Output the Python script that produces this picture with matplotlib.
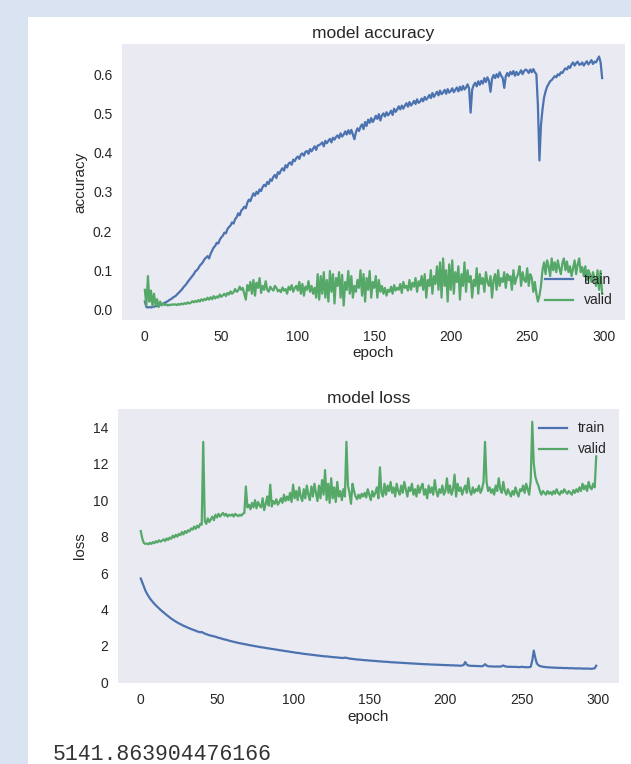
import numpy as np
import matplotlib
matplotlib.use("Agg")
import matplotlib.pyplot as plt
from matplotlib.patches import Rectangle

# values, one per epoch (0..299)
acc_train = [
    0.020, 0.006, 0.005, 0.006, 0.005, 0.006, 0.007, 0.008, 0.009, 0.010, 0.012, 0.013, 0.015, 0.017, 0.019, 0.021, 0.024, 0.026, 0.029, 0.032,
    0.034, 0.038, 0.042, 0.046, 0.050, 0.055, 0.060, 0.064, 0.070, 0.075, 0.080, 0.085, 0.090, 0.097, 0.100, 0.105, 0.112, 0.116, 0.121, 0.128,
    0.132, 0.136, 0.130, 0.142, 0.150, 0.158, 0.162, 0.170, 0.168, 0.178, 0.184, 0.188, 0.196, 0.194, 0.205, 0.210, 0.214, 0.222, 0.219, 0.230,
    0.235, 0.245, 0.240, 0.252, 0.256, 0.262, 0.258, 0.272, 0.280, 0.276, 0.287, 0.296, 0.290, 0.300, 0.295, 0.306, 0.302, 0.312, 0.318, 0.314,
    0.325, 0.320, 0.332, 0.328, 0.338, 0.343, 0.335, 0.350, 0.346, 0.355, 0.360, 0.354, 0.368, 0.362, 0.372, 0.375, 0.369, 0.382, 0.378, 0.386,
    0.390, 0.384, 0.395, 0.398, 0.392, 0.402, 0.404, 0.397, 0.409, 0.403, 0.410, 0.416, 0.407, 0.418, 0.419, 0.422, 0.426, 0.416, 0.430, 0.424,
    0.430, 0.435, 0.426, 0.438, 0.433, 0.440, 0.444, 0.437, 0.449, 0.441, 0.446, 0.454, 0.446, 0.457, 0.448, 0.458, 0.446, 0.434, 0.452, 0.462,
    0.455, 0.466, 0.472, 0.460, 0.478, 0.468, 0.484, 0.476, 0.488, 0.478, 0.485, 0.494, 0.486, 0.498, 0.482, 0.495, 0.500, 0.492, 0.503, 0.495,
    0.500, 0.507, 0.496, 0.512, 0.504, 0.510, 0.518, 0.510, 0.520, 0.512, 0.520, 0.526, 0.517, 0.529, 0.520, 0.525, 0.532, 0.524, 0.536, 0.527,
    0.530, 0.538, 0.531, 0.542, 0.535, 0.540, 0.547, 0.539, 0.552, 0.542, 0.549, 0.555, 0.546, 0.558, 0.549, 0.553, 0.560, 0.550, 0.562, 0.553,
    0.557, 0.564, 0.554, 0.560, 0.566, 0.556, 0.568, 0.559, 0.570, 0.561, 0.566, 0.574, 0.564, 0.502, 0.560, 0.572, 0.578, 0.569, 0.582, 0.573,
    0.583, 0.576, 0.590, 0.580, 0.592, 0.583, 0.555, 0.588, 0.598, 0.590, 0.600, 0.592, 0.605, 0.596, 0.590, 0.565, 0.595, 0.603, 0.595, 0.606,
    0.600, 0.608, 0.596, 0.606, 0.598, 0.603, 0.610, 0.600, 0.608, 0.612, 0.609, 0.603, 0.612, 0.605, 0.613, 0.605, 0.600, 0.520, 0.380, 0.470,
    0.510, 0.540, 0.556, 0.568, 0.575, 0.582, 0.585, 0.590, 0.595, 0.592, 0.600, 0.597, 0.605, 0.603, 0.610, 0.615, 0.612, 0.620, 0.616, 0.625,
    0.630, 0.622, 0.628, 0.632, 0.624, 0.625, 0.630, 0.622, 0.628, 0.633, 0.625, 0.630, 0.636, 0.626, 0.632, 0.630, 0.638, 0.645, 0.630, 0.590,
]

acc_valid = [
    0.050, 0.010, 0.085, 0.020, 0.048, 0.008, 0.040, 0.012, 0.026, 0.006, 0.020, 0.010, 0.015, 0.011, 0.013, 0.010, 0.012, 0.011, 0.013, 0.012,
    0.013, 0.011, 0.014, 0.012, 0.015, 0.013, 0.016, 0.014, 0.018, 0.015, 0.017, 0.021, 0.018, 0.022, 0.019, 0.024, 0.020, 0.026, 0.022, 0.027,
    0.024, 0.030, 0.025, 0.031, 0.026, 0.034, 0.028, 0.033, 0.030, 0.038, 0.032, 0.036, 0.040, 0.034, 0.042, 0.038, 0.046, 0.040, 0.044, 0.052,
    0.045, 0.048, 0.058, 0.050, 0.055, 0.040, 0.025, 0.062, 0.048, 0.070, 0.040, 0.075, 0.035, 0.068, 0.055, 0.080, 0.042, 0.060, 0.050, 0.072,
    0.050, 0.045, 0.058, 0.052, 0.048, 0.060, 0.055, 0.046, 0.050, 0.044, 0.056, 0.048, 0.052, 0.040, 0.058, 0.050, 0.062, 0.045, 0.055, 0.060,
    0.048, 0.070, 0.040, 0.065, 0.035, 0.058, 0.050, 0.072, 0.045, 0.060, 0.040, 0.055, 0.030, 0.090, 0.025, 0.085, 0.040, 0.095, 0.030, 0.075,
    0.020, 0.098, 0.045, 0.090, 0.015, 0.080, 0.060, 0.095, 0.030, 0.088, 0.010, 0.070, 0.050, 0.098, 0.040, 0.085, 0.030, 0.060, 0.045, 0.075,
    0.055, 0.100, 0.035, 0.090, 0.020, 0.080, 0.050, 0.098, 0.030, 0.070, 0.055, 0.085, 0.030, 0.075, 0.045, 0.060, 0.040, 0.055, 0.035, 0.050,
    0.045, 0.058, 0.040, 0.062, 0.048, 0.055, 0.050, 0.065, 0.042, 0.070, 0.055, 0.060, 0.048, 0.075, 0.050, 0.068, 0.058, 0.080, 0.045, 0.072,
    0.060, 0.085, 0.050, 0.090, 0.030, 0.075, 0.060, 0.100, 0.040, 0.085, 0.065, 0.110, 0.050, 0.120, 0.030, 0.130, 0.060, 0.100, 0.020, 0.115,
    0.050, 0.125, 0.040, 0.095, 0.070, 0.110, 0.025, 0.090, 0.060, 0.120, 0.045, 0.100, 0.070, 0.085, 0.030, 0.075, 0.060, 0.105, 0.040, 0.090,
    0.065, 0.080, 0.045, 0.095, 0.070, 0.060, 0.085, 0.030, 0.075, 0.090, 0.050, 0.100, 0.060, 0.080, 0.070, 0.095, 0.055, 0.090, 0.075, 0.085,
    0.050, 0.100, 0.065, 0.080, 0.090, 0.110, 0.060, 0.095, 0.075, 0.070, 0.105, 0.060, 0.090, 0.080, 0.045, 0.070, 0.040, 0.020, 0.035, 0.060,
    0.100, 0.120, 0.090, 0.125, 0.110, 0.085, 0.130, 0.100, 0.120, 0.095, 0.125, 0.105, 0.090, 0.118, 0.130, 0.100, 0.122, 0.095, 0.110, 0.085,
    0.105, 0.125, 0.090, 0.115, 0.130, 0.095, 0.108, 0.085, 0.110, 0.075, 0.100, 0.090, 0.070, 0.095, 0.080, 0.060, 0.100, 0.050, 0.098, 0.040,
]

loss_train = [
    5.70, 5.48, 5.25, 5.05, 4.88, 4.74, 4.61, 4.50, 4.40, 4.31, 4.22, 4.14, 4.06, 3.98, 3.91, 3.84, 3.77, 3.70, 3.63, 3.57,
    3.50, 3.45, 3.39, 3.34, 3.29, 3.24, 3.20, 3.16, 3.11, 3.08, 3.04, 3.00, 2.97, 2.93, 2.90, 2.87, 2.84, 2.80, 2.78, 2.75,
    2.77, 2.72, 2.68, 2.65, 2.62, 2.59, 2.57, 2.55, 2.53, 2.51, 2.48, 2.45, 2.43, 2.41, 2.38, 2.36, 2.34, 2.32, 2.29, 2.27,
    2.25, 2.23, 2.21, 2.19, 2.17, 2.15, 2.14, 2.12, 2.10, 2.09, 2.07, 2.05, 2.04, 2.02, 2.01, 1.99, 1.98, 1.96, 1.95, 1.93,
    1.92, 1.91, 1.89, 1.88, 1.87, 1.85, 1.84, 1.83, 1.81, 1.80, 1.79, 1.77, 1.76, 1.75, 1.73, 1.72, 1.71, 1.70, 1.68, 1.67,
    1.66, 1.64, 1.63, 1.62, 1.61, 1.60, 1.58, 1.57, 1.56, 1.55, 1.54, 1.53, 1.52, 1.51, 1.50, 1.49, 1.48, 1.47, 1.46, 1.45,
    1.44, 1.43, 1.43, 1.42, 1.41, 1.40, 1.39, 1.38, 1.38, 1.37, 1.36, 1.35, 1.35, 1.34, 1.36, 1.35, 1.33, 1.31, 1.30, 1.29,
    1.28, 1.27, 1.26, 1.25, 1.25, 1.24, 1.23, 1.22, 1.22, 1.21, 1.20, 1.20, 1.19, 1.18, 1.18, 1.17, 1.16, 1.16, 1.15, 1.14,
    1.14, 1.13, 1.13, 1.12, 1.11, 1.11, 1.10, 1.10, 1.09, 1.09, 1.08, 1.08, 1.07, 1.07, 1.06, 1.06, 1.05, 1.05, 1.04, 1.04,
    1.03, 1.03, 1.02, 1.02, 1.01, 1.01, 1.00, 1.00, 1.00, 0.99, 0.99, 0.98, 0.98, 0.98, 0.97, 0.97, 0.97, 0.96, 0.96, 0.96,
    0.95, 0.95, 0.95, 0.94, 0.94, 0.94, 0.93, 0.93, 0.93, 0.92, 0.92, 0.93, 0.96, 1.12, 0.98, 0.93, 0.92, 0.91, 0.91, 0.91,
    0.90, 0.90, 0.90, 0.89, 0.89, 0.92, 1.00, 0.93, 0.89, 0.88, 0.88, 0.88, 0.87, 0.87, 0.88, 0.87, 0.87, 0.90, 0.93, 0.89,
    0.87, 0.86, 0.86, 0.86, 0.85, 0.86, 0.85, 0.85, 0.84, 0.84, 0.86, 0.85, 0.84, 0.84, 0.83, 0.84, 0.86, 1.20, 1.75, 1.35,
    1.05, 0.95, 0.90, 0.88, 0.86, 0.85, 0.84, 0.83, 0.83, 0.82, 0.82, 0.81, 0.81, 0.81, 0.80, 0.80, 0.80, 0.79, 0.79, 0.79,
    0.79, 0.78, 0.78, 0.78, 0.78, 0.77, 0.77, 0.77, 0.77, 0.77, 0.76, 0.76, 0.76, 0.76, 0.76, 0.75, 0.75, 0.76, 0.78, 0.92,
]

loss_valid = [
    8.30, 7.90, 7.65, 7.60, 7.62, 7.58, 7.66, 7.60, 7.70, 7.64, 7.75, 7.68, 7.80, 7.72, 7.78, 7.85, 7.76, 7.90, 7.82, 7.95,
    7.88, 8.05, 7.95, 8.10, 8.00, 8.15, 8.08, 8.25, 8.12, 8.30, 8.20, 8.35, 8.28, 8.45, 8.38, 8.55, 8.42, 8.60, 8.50, 8.70,
    8.65, 13.20, 8.85, 8.70, 9.00, 8.80, 8.95, 9.10, 8.90, 9.20, 9.05, 9.25, 9.10, 9.20, 9.30, 9.15, 9.25, 9.10, 9.20, 9.15,
    9.22, 9.10, 9.25, 9.18, 9.12, 9.20, 9.15, 9.25, 9.30, 10.75, 9.60, 9.75, 9.50, 9.85, 9.60, 10.00, 9.55, 9.90, 9.70, 9.60,
    10.10, 9.45, 9.80, 10.20, 9.70, 10.85, 9.65, 9.95, 9.80, 10.05, 9.75, 9.90, 10.10, 9.85, 10.30, 9.95, 10.20, 10.00, 10.40, 9.90,
    10.85, 10.10, 10.50, 10.00, 10.70, 10.20, 9.95, 10.60, 10.10, 10.80, 10.30, 10.00, 10.75, 10.20, 10.90, 10.40, 9.95, 10.80, 10.10, 11.10,
    10.30, 11.65, 10.00, 10.90, 9.85, 11.20, 10.10, 10.70, 9.90, 11.00, 10.20, 10.50, 10.00, 10.60, 10.20, 13.20, 10.80, 10.40, 9.80, 10.90,
    10.50, 10.20, 10.05, 10.30, 10.10, 10.35, 10.20, 10.40, 10.15, 10.60, 10.30, 10.00, 10.50, 10.20, 10.40, 10.70, 10.10, 11.80, 10.40, 10.20,
    10.90, 10.30, 10.80, 10.50, 11.00, 10.40, 10.70, 10.20, 10.90, 10.50, 10.30, 10.80, 10.40, 11.00, 10.60, 10.20, 10.70, 10.50, 10.90, 10.30,
    10.60, 10.20, 10.80, 10.40, 10.70, 10.90, 10.30, 10.60, 10.10, 10.80, 10.40, 10.70, 10.30, 11.10, 10.50, 10.20, 10.60, 10.40, 10.80, 10.30,
    10.50, 11.20, 10.40, 10.80, 10.30, 10.60, 11.40, 10.20, 10.90, 10.50, 10.70, 10.30, 10.60, 10.80, 10.40, 11.20, 10.50, 10.30, 10.70, 10.40,
    10.60, 10.50, 10.80, 10.40, 10.60, 11.00, 13.20, 11.00, 10.50, 10.70, 10.40, 10.60, 10.30, 10.80, 10.50, 11.20, 10.60, 10.40, 11.00, 10.50,
    10.30, 10.60, 10.40, 10.20, 10.50, 10.30, 10.70, 10.40, 10.20, 10.60, 10.50, 10.80, 10.40, 10.90, 10.60, 10.30, 11.10, 14.30, 12.00, 11.30,
    11.00, 10.80, 10.50, 10.30, 10.50, 10.40, 10.30, 10.50, 10.35, 10.45, 10.30, 10.50, 10.35, 10.60, 10.40, 10.30, 10.50, 10.40, 10.60, 10.45,
    10.35, 10.50, 10.40, 10.30, 10.55, 10.40, 10.60, 10.45, 10.70, 10.50, 10.90, 10.60, 10.80, 10.50, 11.00, 10.70, 10.60, 10.90, 10.70, 12.40,
]

elapsed = "5141.863904476166"
legend_labels = ["train", "valid"]

plt.rcParams["font.family"] = ["Liberation Sans", "DejaVu Sans"]
plt.rcParams["text.color"] = ".15"
plt.rcParams["axes.labelcolor"] = ".15"
plt.rcParams["xtick.color"] = ".15"
plt.rcParams["ytick.color"] = ".15"

W, H = 631, 764
fig = plt.figure(figsize=(W / 100, H / 100), dpi=100, facecolor="#DAE3F2")
# white notebook cell on the light blue page, drawn under the axes
fig.patches.append(Rectangle((28 / W, 0), 1, 1 - 17 / H, transform=fig.transFigure,
                             facecolor="white", edgecolor="none", zorder=-1))

epochs = np.arange(len(acc_train))


def style(ax):
    ax.set_facecolor("#EAEAF2")
    for s in ax.spines.values():
        s.set_visible(False)
    ax.tick_params(length=0, labelsize=10, pad=7)
    ax.grid(False)


ax1 = fig.add_axes([122 / W, 1 - 320 / H, (625 - 122) / W, (320 - 44) / H])
style(ax1)
ax1.plot(epochs, acc_train, color="#4C72B0", lw=1.6)
ax1.plot(epochs, acc_valid, color="#55A868", lw=1.6)
ax1.set_title("model accuracy", fontsize=12.5, pad=4)
ax1.set_ylabel("accuracy", fontsize=11, labelpad=4)
ax1.set_xlabel("epoch", fontsize=11, labelpad=2)
ax1.legend(legend_labels, loc="lower right", frameon=False, fontsize=10)

ax2 = fig.add_axes([118 / W, 1 - 683 / H, (619 - 118) / W, (683 - 409) / H])
style(ax2)
ax2.plot(epochs, loss_train, color="#4C72B0", lw=1.6)
ax2.plot(epochs, loss_valid, color="#55A868", lw=1.6)
ax2.set_ylim(-0.03, 15.0)
ax2.set_title("model loss", fontsize=12.5, pad=4)
ax2.set_ylabel("loss", fontsize=11, labelpad=4)
ax2.set_xlabel("epoch", fontsize=11, labelpad=2)
ax2.legend(legend_labels, loc="upper right", frameon=False, fontsize=10)

fig.text(53 / W, 1 - 754 / H, elapsed, family="Liberation Mono", fontsize=15.5,
         color="#333333", va="center", ha="left")

fig.savefig("out.png", dpi=100)
